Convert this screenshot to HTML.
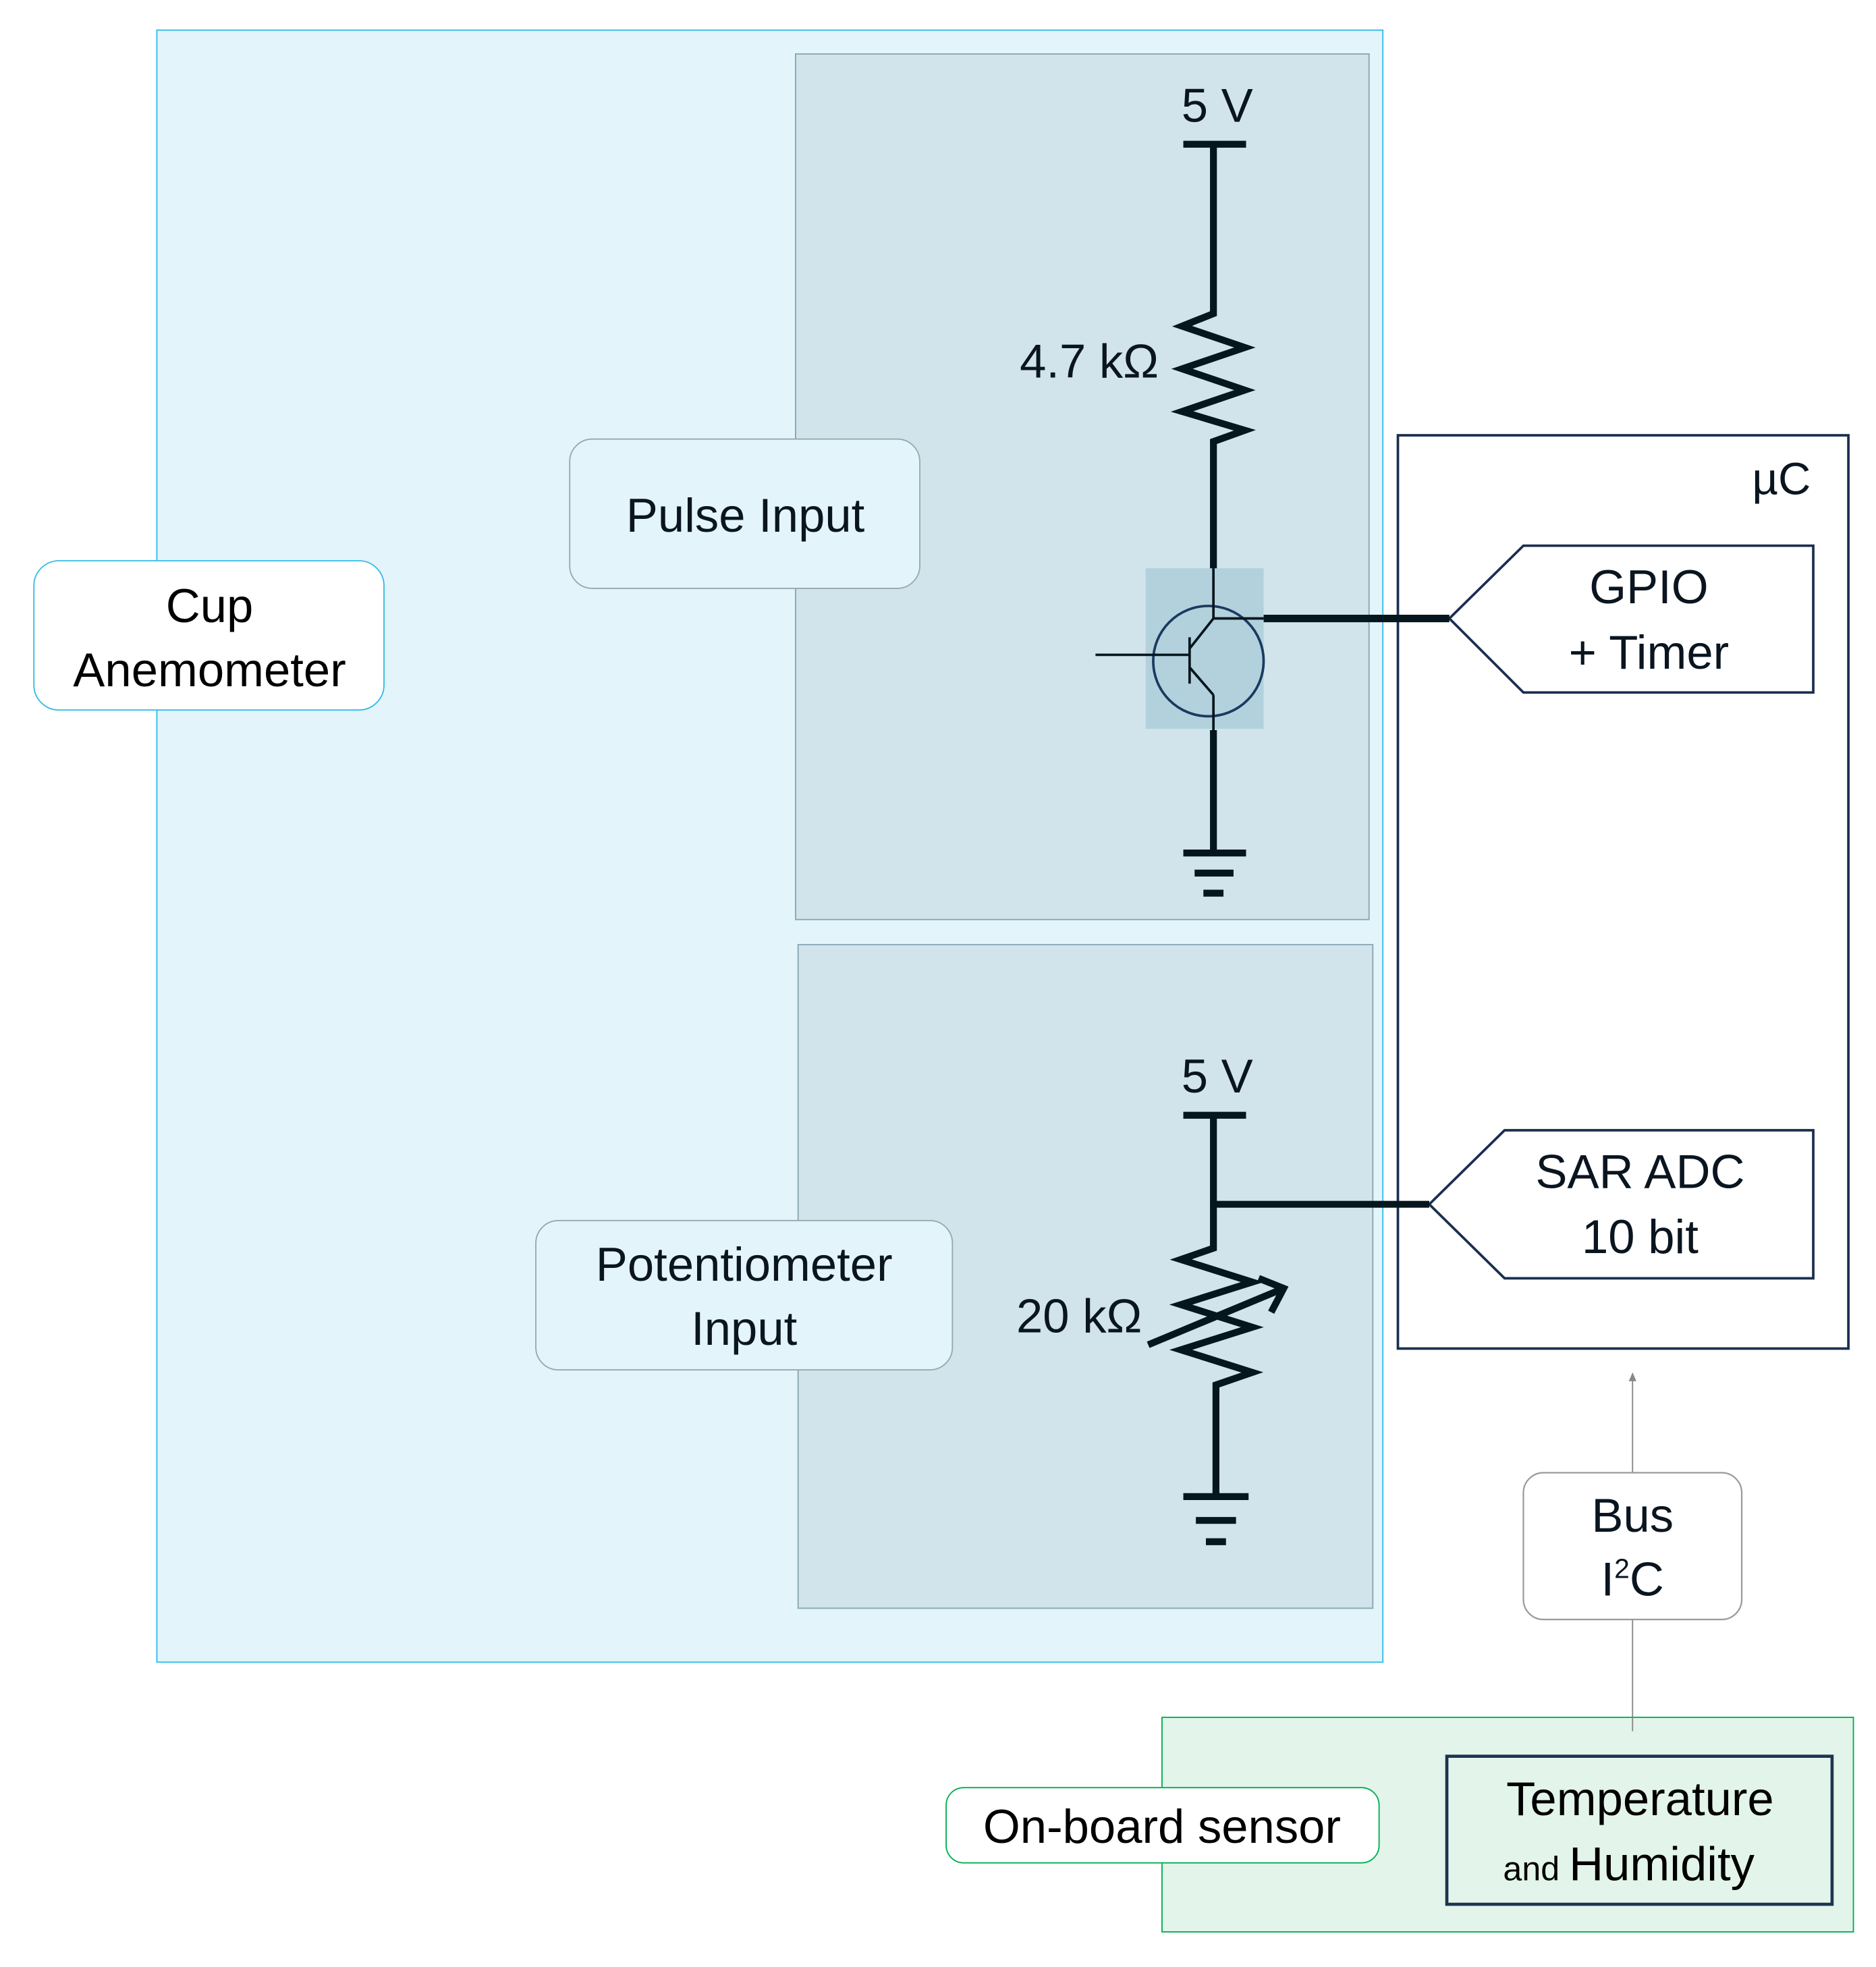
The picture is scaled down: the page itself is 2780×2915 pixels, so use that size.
<!DOCTYPE html>
<html><head><meta charset="utf-8"><style>html,body{margin:0;padding:0;background:#fff}svg{display:block}</style></head>
<body>
<svg width="2780" height="2915" viewBox="0 0 1495 1568" preserveAspectRatio="none" xmlns="http://www.w3.org/2000/svg" font-family="Liberation Sans, sans-serif" fill="#0a1520">
<rect x="125" y="24" width="977" height="1301" fill="#e3f4fb" stroke="#33bde8" stroke-width="1"/>
<rect x="634" y="43" width="457" height="690" fill="#d1e4eb" stroke="#8aa6b4" stroke-width="1"/>
<rect x="636" y="753" width="458" height="529" fill="#d1e4eb" stroke="#8aa6b4" stroke-width="1"/>
<rect x="27" y="447" width="279" height="119" rx="20" fill="#fff" stroke="#33bde8" stroke-width="1"/>
<text x="167" y="496" font-size="38" text-anchor="middle" fill="#000">Cup</text>
<text x="167" y="547" font-size="38" text-anchor="middle" fill="#000">Anemometer</text>
<rect x="454" y="350" width="279" height="119" rx="18" fill="#e3f4fb" stroke="#9aa8b0" stroke-width="1"/>
<text x="594" y="424" font-size="38" text-anchor="middle">Pulse Input</text>
<rect x="427" y="973" width="332" height="119" rx="18" fill="#e3f4fb" stroke="#9aa8b0" stroke-width="1"/>
<text x="593" y="1021" font-size="38" text-anchor="middle">Potentiometer</text>
<text x="593" y="1072" font-size="38" text-anchor="middle">Input</text>
<rect x="1114" y="347" width="359" height="728" fill="#fff" stroke="#1a2e50" stroke-width="2"/>
<text x="1443" y="394" font-size="36" text-anchor="end">µC</text>
<polygon points="1155,493 1214,435 1445,435 1445,552 1214,552" fill="#fff" stroke="#1a2e50" stroke-width="2"/>
<text x="1314" y="481" font-size="38" text-anchor="middle">GPIO</text>
<text x="1314" y="533" font-size="38" text-anchor="middle">+ Timer</text>
<polygon points="1139,960 1199,901 1445,901 1445,1019 1199,1019" fill="#fff" stroke="#1a2e50" stroke-width="2"/>
<text x="1307" y="947" font-size="38" text-anchor="middle">SAR ADC</text>
<text x="1307" y="999" font-size="38" text-anchor="middle">10 bit</text>
<text x="970" y="97" font-size="38" text-anchor="middle">5 V</text>
<g stroke="#06161e" stroke-width="5.5" fill="none" stroke-linejoin="miter">
<line x1="943" y1="115" x2="993" y2="115"/>
<polyline points="967,115 967,250 942,260 992,277 942,294 992,311 942,328 992,343 967,352 967,455"/>
<line x1="967" y1="582" x2="967" y2="680"/>
<line x1="943" y1="680" x2="993" y2="680"/>
<line x1="952" y1="696" x2="983" y2="696"/>
<line x1="959" y1="712" x2="975" y2="712"/>
<line x1="1007" y1="493" x2="1155" y2="493" stroke-width="6"/>
</g>
<rect x="913" y="453" width="94" height="128" fill="#b3d1dc"/>
<ellipse cx="963" cy="527" rx="44" ry="44" fill="none" stroke="#1a3a60" stroke-width="2"/>
<g stroke="#06161e" stroke-width="2" fill="none">
<polyline points="967,453 967,493 1007,493"/>
<line x1="967" y1="493" x2="948" y2="517"/>
<line x1="948" y1="508" x2="948" y2="545"/>
<line x1="873" y1="522" x2="947" y2="522"/>
<line x1="948" y1="532" x2="967" y2="554"/>
<line x1="967" y1="554" x2="967" y2="582"/>
</g>
<text x="868" y="301" font-size="38" text-anchor="middle">4.7 kΩ</text>
<text x="970" y="871" font-size="38" text-anchor="middle">5 V</text>
<g stroke="#06161e" stroke-width="5.5" fill="none">
<line x1="943" y1="889" x2="993" y2="889"/>
<polyline points="967,889 967,960 967,995 941,1004 998,1022 941,1040 998,1058 941,1076 998,1094 969,1104 969,1193"/>
<line x1="967" y1="960" x2="1139" y2="960"/>
<line x1="915" y1="1072" x2="1023" y2="1027"/>
<polyline points="1003,1019 1023,1027 1013,1046"/>
<line x1="943" y1="1193" x2="995" y2="1193"/>
<line x1="953" y1="1212" x2="985" y2="1212"/>
<line x1="961" y1="1229" x2="977" y2="1229"/>
</g>
<text x="860" y="1062" font-size="38" text-anchor="middle">20 kΩ</text>
<line x1="1301" y1="1174" x2="1301" y2="1098" stroke="#888" stroke-width="1"/>
<polygon points="1301,1094 1298,1101 1304,1101" fill="#888"/>
<line x1="1301" y1="1291" x2="1301" y2="1380" stroke="#888" stroke-width="1"/>
<rect x="1214" y="1174" width="174" height="117" rx="16" fill="#fff" stroke="#9a9a9a" stroke-width="1.2"/>
<text x="1301" y="1221" font-size="38" text-anchor="middle">Bus</text>
<text x="1301" y="1272" font-size="38" text-anchor="middle">I<tspan font-size="22" dy="-14">2</tspan><tspan dy="14">C</tspan></text>
<rect x="926" y="1369" width="551" height="171" fill="#e3f4ea" stroke="#00b050" stroke-width="1"/>
<line x1="1301" y1="1369" x2="1301" y2="1380" stroke="#888" stroke-width="1"/>
<rect x="754" y="1425" width="345" height="60" rx="14" fill="#fff" stroke="#00b050" stroke-width="1"/>
<text x="926" y="1469" font-size="38" text-anchor="middle" fill="#000">On-board sensor</text>
<rect x="1153" y="1400" width="307" height="118" fill="#e3f4ea" stroke="#1a3550" stroke-width="2.5"/>
<text x="1307" y="1447" font-size="38" text-anchor="middle" fill="#000">Temperature</text>
<text x="1298" y="1499" font-size="38" text-anchor="middle" fill="#000"><tspan font-size="27">and </tspan>Humidity</text>
</svg>
</body></html>
